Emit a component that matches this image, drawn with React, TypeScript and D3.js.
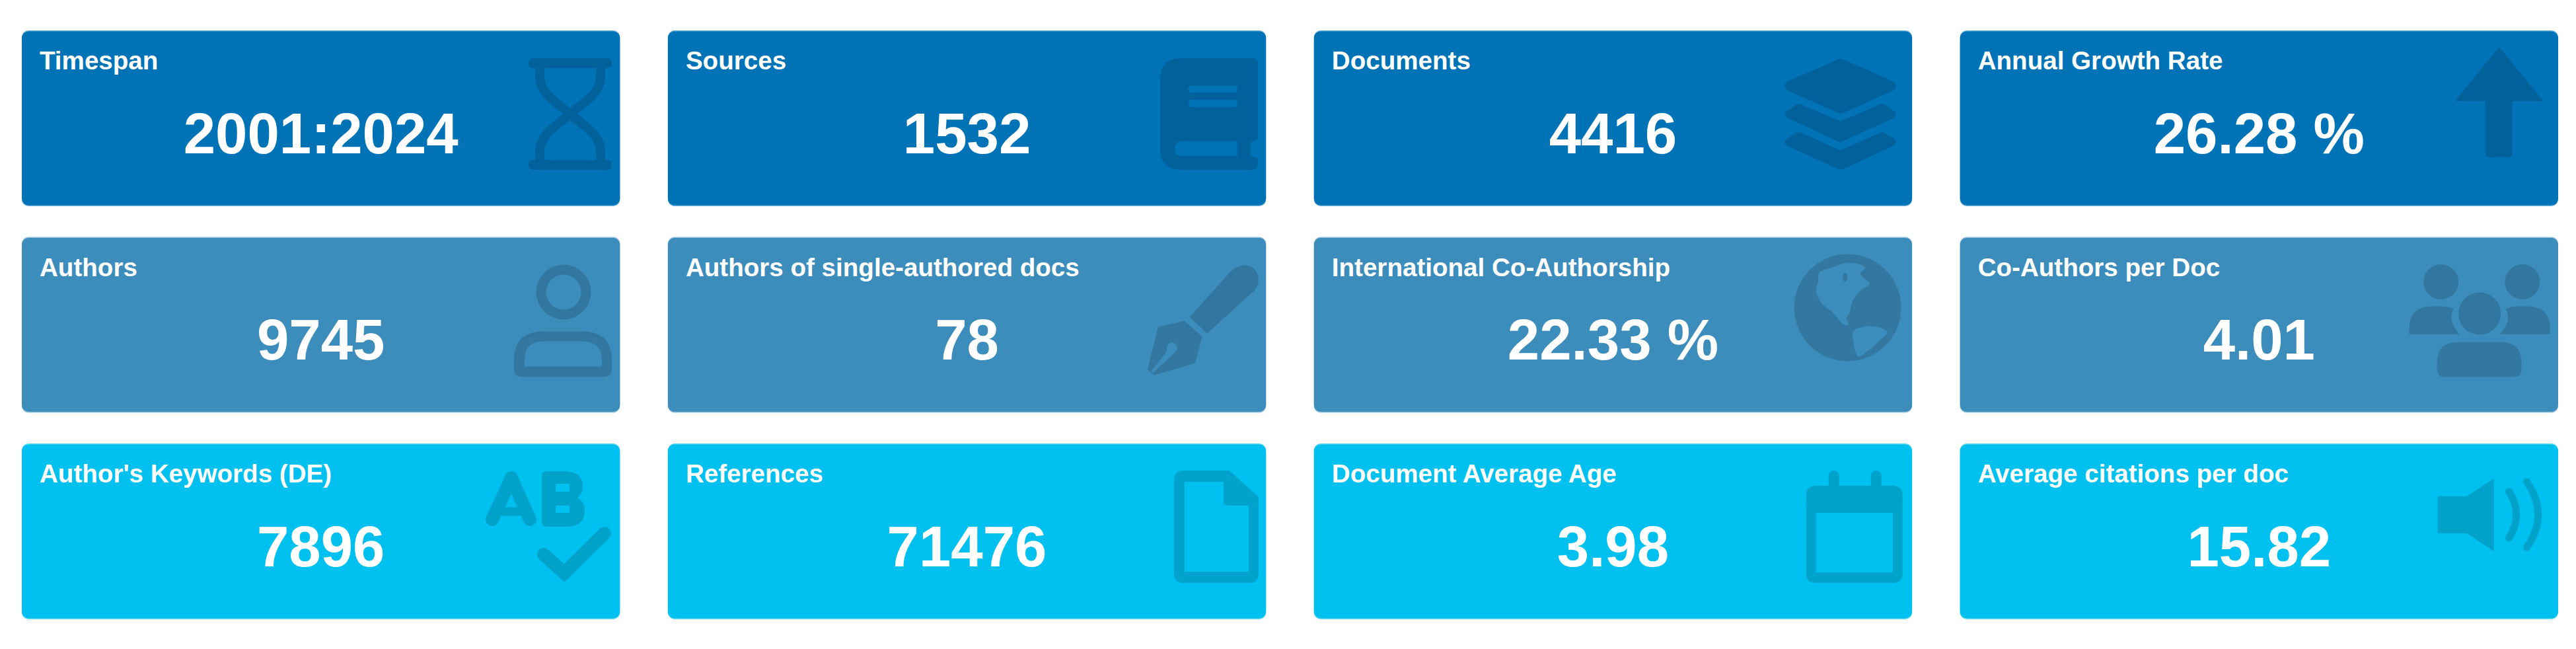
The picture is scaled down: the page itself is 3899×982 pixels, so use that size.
import React from 'react';
import * as d3 from 'd3';

const WIDTH = 3899;
const HEIGHT = 982;

const titles = [
  'Timespan', 'Sources', 'Documents', 'Annual Growth Rate',
  'Authors', 'Authors of single-authored docs', 'International Co-Authorship', 'Co-Authors per Doc',
  "Author's Keywords (DE)", 'References', 'Document Average Age', 'Average citations per doc',
];
const values = [
  '2001:2024', '1532', '4416', '26.28 %',
  '9745', '78', '22.33 %', '4.01',
  '7896', '71476', '3.98', '15.82',
];
const rowColors = ['#0073b7', '#3c8dbc', '#00c0ef'];
const rowEdges = ['#66abd6', '#8fc0dd', '#66d9f5'];
const iconNames = [
  'hourglass', 'book', 'layers', 'arrow',
  'user', 'pen', 'globe', 'users',
  'spell', 'file', 'calendar', 'volume',
];

const columns = d3.range(4);
const rows = d3.range(3);

const xScale = d3.scaleBand<number>().domain(columns).range([33, 3872]).paddingInner(0.0742);
const yScale = d3.scaleBand<number>().domain(rows).range([46, 937]).paddingInner(0.1488);

const blob = d3.line().curve(d3.curveCatmullRomClosed.alpha(0.5));

const northAmerica: [number, number][] = [
  [39, 28], [59, 20], [82, 13], [108, 20], [101, 30], [115, 45], [101, 55], [89, 72],
  [85, 88], [80, 97], [83, 107], [75, 106], [59, 88], [43, 75], [34, 55], [37, 42],
];
const southAmerica: [number, number][] = [
  [91, 116], [120, 109], [142, 118], [129, 132], [114, 145], [98, 155], [91, 135],
];
const lake: [number, number][] = [[78, 28], [82, 35], [78, 42], [74, 35]];

const circle = (cx: number, cy: number, r: number) =>
  `M${cx - r} ${cy}A${r} ${r} 0 1 0 ${cx + r} ${cy}A${r} ${r} 0 1 0 ${cx - r} ${cy}Z`;

const solid = (d: string) => <path d={d} fillRule="evenodd" />;
const line = (d: string, w: number, cap: 'round' | 'butt' = 'round', join: 'round' | 'miter' = 'round') => (
  <path d={d} fill="none" stroke="#000" strokeWidth={w} strokeLinecap={cap} strokeLinejoin={join} />
);

// icon shapes, each in its own pixel box
const icons: Record<string, { dx: number; dy: number; draw: React.ReactNode }> = {
  hourglass: {
    dx: 767, dy: 42,
    draw: (
      <>
        <rect x={0} y={0} width={126} height={15} rx={6} />
        <rect x={0} y={154} width={126} height={15} rx={6} />
        {line('M17 12V28C17 55 45 68 63 84.5C81 101 109 114 109 141V157', 14, 'butt')}
        {line('M109 12V28C109 55 81 68 63 84.5C45 101 17 114 17 141V157', 14, 'butt')}
      </>
    ),
  },
  book: {
    dx: 745, dy: 42,
    draw: solid(
      'M32 0H140Q148 0 148 8V120Q148 125 137 127V148L148 151V161Q148 169 140 169H32Q0 169 0 137V32Q0 0 32 0Z' +
        'M47 42H113Q117 42 117 47T113 52H47Q43 52 43 47T47 42Z' +
        'M47 63H113Q117 63 117 68.5T113 74H47Q43 74 43 68.5T47 63Z' +
        'M33 126H117V148H33Q22 148 22 137T33 126Z',
    ),
  },
  layers: {
    dx: 712, dy: 42,
    draw: (
      <>
        <path d="M85 9L161 42L85 76L9 42Z" stroke="#000" strokeWidth={16} strokeLinejoin="round" />
        <path d="M22 75L85 102L148 75L163 85L85 121L7 85Z" stroke="#000" strokeWidth={12} strokeLinejoin="round" />
        <path d="M22 118L85 146L148 118L163 127L85 163L7 127Z" stroke="#000" strokeWidth={12} strokeLinejoin="round" />
      </>
    ),
  },
  arrow: {
    dx: 749, dy: 25,
    draw: solid('M67 0L134 82H87V161Q87 167 81 167H52Q46 167 46 161V82H0Z'),
  },
  user: {
    dx: 745, dy: 41,
    draw: (
      <>
        {solid(circle(75, 42.5, 41.5) + circle(75, 42.5, 26.5))}
        {solid(
          'M0 146Q0 102 44 102H104Q148 102 148 146V158Q148 171 135 171H13Q0 171 0 158Z' +
            'M16 155V146Q16 117 44 117H104Q133 117 133 146V155Z',
        )}
      </>
    ),
  },
  pen: {
    dx: 726, dy: 41,
    draw: (
      <>
        {solid('M64 80L125 12Q143 -5 160 6Q175 20 162 40L90 105Z')}
        {solid(
          'M56 86L16 95L0 160L10 168L72 150L83 110Z' +
            'M6 162L30 131A8 8 0 1 1 42 133L8 165Z',
        )}
      </>
    ),
  },
  globe: {
    dx: 726, dy: 26,
    draw: solid(circle(81.75, 81, 81) + blob(northAmerica) + blob(southAmerica) + blob(lake)),
  },
  users: {
    dx: 680, dy: 41,
    draw: (
      <>
        <circle cx={48} cy={27} r={26.5} />
        <circle cx={171} cy={27} r={26.5} />
        <circle cx={106.5} cy={75} r={32} />
        {solid('M0 106V98Q0 64 34 64H48Q58 64 67 68Q57 85 76 106Z')}
        {solid('M213 106V98Q213 64 179 64H165Q155 64 146 68Q156 85 137 106Z')}
        {solid('M42 158V150Q42 118 74 118H138Q170 118 170 150V158Q170 171 157 171H55Q42 171 42 158Z')}
      </>
    ),
  },
  spell: {
    dx: 702, dy: 41,
    draw: (
      <>
        {line('M10 74L39 11L67 74', 20)}
        {line('M20 62H58', 13, 'butt')}
        {solid(
          'M85 8Q85 1 92 1H118Q147 1 147 24Q147 36 139 41Q150 47 150 60Q150 85 122 85H92Q85 85 85 78Z' +
            'M106 20H127V32H106ZM106 53H127V64H106Z',
        )}
        {line('M88 127L119 155L180 95', 20, 'round', 'miter')}
      </>
    ),
  },
  file: {
    dx: 766, dy: 41,
    draw: solid(
      'M14 0H84L128 40V156Q128 170 114 170H14Q0 170 0 156V14Q0 0 14 0Z' +
        'M16 17H75V48Q75 53 81 53H113V153H16Z',
    ),
  },
  calendar: {
    dx: 745, dy: 41,
    draw: (
      <>
        {solid(
          'M14 23H132Q146 23 146 37V156Q146 170 132 170H14Q0 170 0 156V37Q0 23 14 23Z' +
            'M15 64H131V154H15Z',
        )}
        <rect x={34} y={0} width={16} height={30} rx={8} />
        <rect x={98} y={0} width={16} height={30} rx={8} />
      </>
    ),
  },
  volume: {
    dx: 723, dy: 50,
    draw: (
      <>
        {solid('M0 30H44L85 3V113L44 86H0Z')}
        {line('M108 23Q130 58 108 93', 11)}
        {line('M135 8Q169 58 135 107', 11)}
      </>
    ),
  },
};

const FONT = '"Liberation Sans", Arial, sans-serif';

const App: React.FC = () => {
  const cardW = xScale.bandwidth();
  const cardH = yScale.bandwidth();

  return (
    <svg
      width={WIDTH}
      height={HEIGHT}
      style={{ position: 'absolute', left: 0, top: 0, display: 'block', background: '#fff' }}
    >
      {titles.map((title, i) => {
        const col = i % 4;
        const row = Math.floor(i / 4);
        const x = xScale(col) as number;
        const y = yScale(row) as number;
        const icon = icons[iconNames[i]];
        return (
          <g key={title} transform={`translate(${x},${y})`}>
            <rect x={0} y={0} width={cardW} height={cardH} rx={10} fill={rowEdges[row]} />
            <rect x={0} y={1.6} width={cardW} height={cardH - 3.2} rx={10} fill={rowColors[row]} />
            <g transform={`translate(${icon.dx},${icon.dy})`} opacity={0.15} fill="#000">
              {icon.draw}
            </g>
            <text x={27} y={59} fill="#fff" fontFamily={FONT} fontWeight={700} fontSize={38.6}>
              {title}
            </text>
            <text
              x={cardW / 2}
              y={185.5}
              fill="#fff"
              fontFamily={FONT}
              fontWeight={700}
              fontSize={87}
              textAnchor="middle"
            >
              {values[i]}
            </text>
          </g>
        );
      })}
    </svg>
  );
};

export default App;
